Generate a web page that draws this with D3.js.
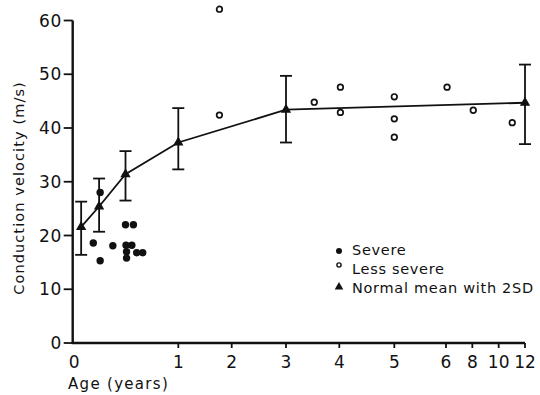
<!DOCTYPE html>
<html>
<head>
<meta charset="utf-8">
<script src="https://cdn.jsdelivr.net/npm/d3@7"></script>
<style>
  body { margin: 0; background: #fff; }
  svg { font-family: "DejaVu Sans", sans-serif; }
  text { fill: #111; }
</style>
</head>
<body>
<svg width="540" height="395"></svg>
<script>
var svg = d3.select("svg");

// x ticks (age in years), the axis is stretched below 1 year and squeezed above 6
var xTicks = [0, 1, 2, 3, 4, 5, 6, 8, 10, 12];
var yTicks = [0, 10, 20, 30, 40, 50, 60];

// normal mean with 2SD
var meanAge = [0.08, 0.25, 0.5, 1, 3, 12];
var meanVal = [21.6, 25.4, 31.4, 37.3, 43.4, 44.7];
var sdLow = [16.4, 20.7, 26.5, 32.3, 37.3, 37.0];
var sdHigh = [26.3, 30.6, 35.7, 43.7, 49.7, 51.8];

// severe cases
var severeAge = [0.26, 0.195, 0.26, 0.38, 0.5, 0.575, 0.505, 0.56, 0.51, 0.51, 0.606, 0.663];
var severeVal = [28.0, 18.6, 15.3, 18.1, 22.0, 22.0, 18.2, 18.2, 17.0, 15.8, 16.8, 16.8];

// less severe cases
var lessAge = [1.77, 1.77, 3.53, 4.02, 4.02, 5, 5, 5, 6.08, 8.07, 11.03];
var lessVal = [62.1, 42.4, 44.8, 47.6, 42.9, 45.8, 41.7, 38.3, 47.6, 43.3, 41.0];

var legendLabels = ["Severe", "Less severe", "Normal mean with 2SD"];

var x = d3.scaleLinear()
    .domain([0, 1, 2, 3, 4, 5, 6, 12])
    .range([72.7, 178.3, 231.7, 286, 339.3, 394.3, 446, 525]);

var y = d3.scaleLinear()
    .domain([0, 60])
    .range([343, 20.5]);

// axes
svg.append("line")
    .attr("x1", x(0)).attr("x2", x(0))
    .attr("y1", y(0) + 1).attr("y2", y(60))
    .attr("stroke", "#111").attr("stroke-width", 2.4);
svg.append("line")
    .attr("x1", x(0) - 1).attr("x2", x(12))
    .attr("y1", y(0)).attr("y2", y(0))
    .attr("stroke", "#111").attr("stroke-width", 2.4);

svg.append("g").selectAll("line")
    .data(yTicks)
    .enter().append("line")
      .attr("x1", x(0) - 9).attr("x2", x(0))
      .attr("y1", function(d) { return y(d); })
      .attr("y2", function(d) { return y(d); })
      .attr("stroke", "#111").attr("stroke-width", 1.8);

svg.append("g").selectAll("text")
    .data(yTicks)
    .enter().append("text")
      .attr("x", x(0) - 10.5)
      .attr("y", function(d) { return y(d); })
      .attr("dy", "0.36em")
      .attr("text-anchor", "end")
      .attr("font-size", 17)
      .attr("letter-spacing", 0.8)
      .text(function(d) { return d; });

svg.append("g").selectAll("line")
    .data(xTicks.filter(function(d) { return d > 0; }))
    .enter().append("line")
      .attr("x1", function(d) { return x(d); })
      .attr("x2", function(d) { return x(d); })
      .attr("y1", y(0)).attr("y2", y(0) + 5)
      .attr("stroke", "#111").attr("stroke-width", 1.8);

svg.append("g").selectAll("text")
    .data(xTicks)
    .enter().append("text")
      .attr("x", function(d) { return d === 0 ? x(d) + 1.5 : x(d); })
      .attr("y", 362)
      .attr("dy", "0.36em")
      .attr("text-anchor", "middle")
      .attr("font-size", 17)
      .text(function(d) { return d; });

svg.append("text")
    .attr("x", 68).attr("y", 384)
    .attr("dy", "0.36em")
    .attr("font-size", 15)
    .attr("letter-spacing", 1.3)
    .text("Age (years)");

svg.append("text")
    .attr("transform", "translate(19,188) rotate(-90)")
    .attr("text-anchor", "middle")
    .attr("dy", "0.36em")
    .attr("font-size", 14.5)
    .attr("letter-spacing", 1.1)
    .text("Conduction velocity (m/s)");

// mean line
var line = d3.line()
    .x(function(d) { return x(meanAge[d]); })
    .y(function(d) { return y(meanVal[d]); });

svg.append("path")
    .datum(d3.range(meanAge.length))
    .attr("d", line)
    .attr("fill", "none")
    .attr("stroke", "#111")
    .attr("stroke-width", 1.8);

// error bars
var bars = svg.append("g").attr("stroke", "#111").attr("stroke-width", 1.8);
meanAge.forEach(function(a, i) {
  var cx = x(a);
  bars.append("line").attr("x1", cx).attr("x2", cx)
      .attr("y1", y(sdLow[i])).attr("y2", y(sdHigh[i]));
  bars.append("line").attr("x1", cx - 6).attr("x2", cx + 6)
      .attr("y1", y(sdLow[i])).attr("y2", y(sdLow[i]));
  bars.append("line").attr("x1", cx - 6).attr("x2", cx + 6)
      .attr("y1", y(sdHigh[i])).attr("y2", y(sdHigh[i]));
});

var tri = d3.symbol().type(d3.symbolTriangle).size(46);

svg.append("g").selectAll("path")
    .data(meanAge)
    .enter().append("path")
      .attr("d", tri)
      .attr("transform", function(d, i) {
        return "translate(" + x(d) + "," + y(meanVal[i]) + ")";
      })
      .attr("fill", "#111");

// severe
svg.append("g").selectAll("circle")
    .data(severeAge)
    .enter().append("circle")
      .attr("cx", function(d) { return x(d); })
      .attr("cy", function(d, i) { return y(severeVal[i]); })
      .attr("r", 3.7)
      .attr("fill", "#111");

// less severe
svg.append("g").selectAll("circle")
    .data(lessAge)
    .enter().append("circle")
      .attr("cx", function(d) { return x(d); })
      .attr("cy", function(d, i) { return y(lessVal[i]); })
      .attr("r", 2.8)
      .attr("fill", "#fff")
      .attr("stroke", "#111")
      .attr("stroke-width", 1.7);

// legend
var lg = svg.append("g");
var rowY = [250, 269, 288];
lg.selectAll("text")
    .data(legendLabels)
    .enter().append("text")
      .attr("x", 352)
      .attr("y", function(d, i) { return rowY[i]; })
      .attr("dy", "0.36em")
      .attr("font-size", 14.5)
      .attr("letter-spacing", 0.7)
      .text(function(d) { return d; });

lg.append("circle").attr("cx", 339).attr("cy", rowY[0] + 1)
    .attr("r", 3).attr("fill", "#111");
lg.append("circle").attr("cx", 339).attr("cy", rowY[1] - 4)
    .attr("r", 2.1).attr("fill", "#fff").attr("stroke", "#111").attr("stroke-width", 1.4);
lg.append("path").attr("d", d3.symbol().type(d3.symbolTriangle).size(32))
    .attr("transform", "translate(339," + (rowY[2] - 1) + ")")
    .attr("fill", "#111");
</script>
</body>
</html>
